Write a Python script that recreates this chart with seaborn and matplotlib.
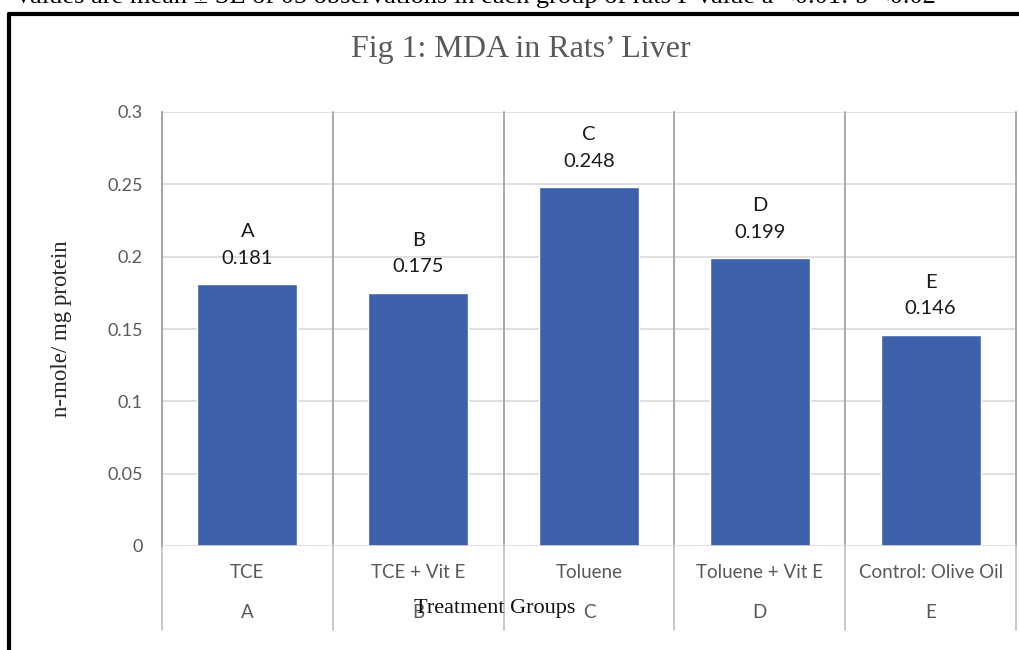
import matplotlib
matplotlib.use("Agg")
import matplotlib.pyplot as plt
import matplotlib.transforms as mtransforms
from matplotlib.lines import Line2D
import seaborn as sns
import pandas as pd

categories = ["TCE", "TCE + Vit E", "Toluene", "Toluene + Vit E", "Control: Olive Oil"]
group_letters = ["A", "B", "C", "D", "E"]
values = [0.181, 0.175, 0.248, 0.199, 0.146]
bar_letters = ["A", "B", "C", "D", "E"]
yticks = [0, 0.05, 0.1, 0.15, 0.2, 0.25, 0.3]
ytick_labels = ["0", "0.05", "0.1", "0.15", "0.2", "0.25", "0.3"]

df = pd.DataFrame({"group": categories, "value": values})

sns.set_theme(style="white")
plt.rcParams["font.family"] = ["Lato", "DejaVu Sans"]

fig = plt.figure(figsize=(10.19, 6.5), dpi=100)
ax = fig.add_axes([162 / 1019, 1 - 546 / 650, (1016 - 162) / 1019, (546 - 112) / 650])

bar_color = "#3d62ab"
sns.barplot(data=df, x="group", y="value", color=bar_color, width=0.585,
            saturation=1, ax=ax, zorder=3)

ax.set_xlim(-0.5, len(categories) - 0.5)
ax.set_ylim(0, 0.3)
ax.set_yticks(yticks)
ax.set_yticklabels(ytick_labels, color="#595959", fontsize=13)
ax.tick_params(axis="y", length=0, pad=14)
ax.set_xticks([])
ax.set_xlabel("")
ax.set_ylabel("")

grid_c = "#d9d9d9"
for t in yticks[1:]:
    ax.axhline(t, color=grid_c, lw=1.2, zorder=1)

for s in ["top", "right", "bottom"]:
    ax.spines[s].set_visible(False)
ax.spines["left"].set_color("#a6a6a6")
ax.spines["left"].set_linewidth(1.2)
ax.axhline(0, color=grid_c, lw=1.2, zorder=4)

# category separators extending into the label area
trans = mtransforms.blended_transform_factory(ax.transData, ax.transAxes)
for i in range(len(categories) + 1):
    x = i - 0.5
    ax.plot([x, x], [1, -84 / 434], transform=trans, color="#bfbfbf",
            lw=1.2, clip_on=False, zorder=2)
    ax.plot([x, x], [0, 1], transform=trans, color="#a6a6a6",
            lw=1.2, clip_on=False, zorder=2)

# multi-level category labels
for i, (c, g) in enumerate(zip(categories, group_letters)):
    ax.text(i, -27 / 434, c, transform=trans, ha="center", va="center",
            fontsize=13.5, color="#595959")
    ax.text(i, -66 / 434, g, transform=trans, ha="center", va="center",
            fontsize=13.5, color="#595959")

# data labels
for i, (v, L) in enumerate(zip(values, bar_letters)):
    ax.annotate(f"{v:.3f}", (i, v), xytext=(0, 18.7), textcoords="offset points",
                ha="center", va="center", fontsize=14.5, color="#1a1a1a")
    ax.annotate(L, (i, v), xytext=(0, 38), textcoords="offset points",
                ha="center", va="center", fontsize=14.5, color="#1a1a1a")

serif = ["Liberation Serif", "DejaVu Serif"]
fig.text(521 / 1019, 1 - 50 / 650, "Fig 1: MDA in Rats’ Liver", ha="center",
         va="center", fontsize=23, color="#595959", family=serif)
fig.text(62 / 1019, 1 - 329 / 650, "n-mole/ mg protein", ha="center",
         va="center", rotation=90, fontsize=16.5, color="#262626", family=serif)
fig.text(495 / 1019, 1 - 608 / 650, "Treatment Groups", ha="center",
         va="center", fontsize=16, color="#111111", family=serif)

# cropped caption at very top
fig.text(14 / 1019, 1 - 3 / 650, "Values are mean ± SE of 05 observations in each group of rats P value a <0.01: b <0.02",
         ha="left", va="baseline", fontsize=19, color="black", family=serif)

# outer border (black)
fig.add_artist(Line2D([9 / 1019, 1.0], [1 - 14 / 650, 1 - 14 / 650],
                      transform=fig.transFigure, color="black", lw=3))
fig.add_artist(Line2D([9 / 1019, 9 / 1019], [1 - 14 / 650, 0],
                      transform=fig.transFigure, color="black", lw=3))

fig.savefig("out.png", dpi=100)
